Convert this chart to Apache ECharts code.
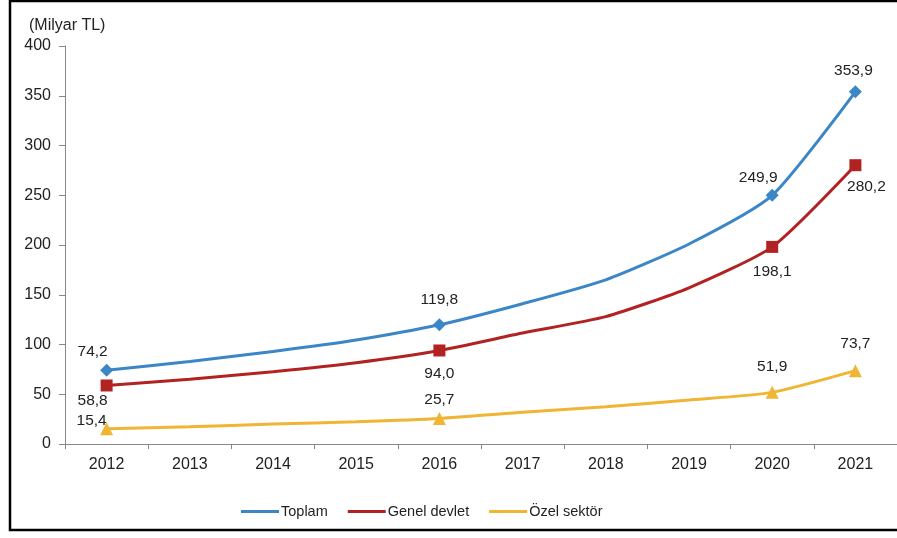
<!DOCTYPE html>
<html>
<head>
<meta charset="utf-8">
<script src="https://cdn.jsdelivr.net/npm/echarts@6/dist/echarts.min.js"></script>
<style>
html,body{margin:0;padding:0;background:#fff;}
#c{width:897px;height:538px;}
</style>
</head>
<body>
<div id="c"></div>
<script>
const years = ['2012','2013','2014','2015','2016','2017','2018','2019','2020','2021'];
const toplam = [74.2, 83, 93, 104.5, 119.8, 141, 165, 201, 249.9, 353.9];
const genelDevlet = [58.8, 65, 72.7, 81.7, 94.0, 111.5, 128, 157, 198.1, 280.2];
const ozelSektor = [15.4, 17.4, 20, 22.4, 25.7, 31.8, 37.5, 44.2, 51.9, 73.7];
const yTicks = [0, 50, 100, 150, 200, 250, 300, 350, 400];
const labeledIdx = [0, 4, 8, 9];
const seriesNames = ['Toplam', 'Genel devlet', 'Özel sektör'];

// label placement (styling only): offsets of the label centre from the marker, per labelled point
const labelOffsets = {
  toplam: [[-14, -18], [0, -25], [-14, -18], [-2, -21]],
  genel: [[-14, 15], [0, 23], [0, 25], [11, 22]],
  ozel: [[-15, -8], [0, -19], [0, -26], [0, -27]]
};

const FONT = 'Liberation Sans, Arial, sans-serif';
const fmt = v => v.toFixed(1).replace('.', ',');

function makeData(arr, offsets) {
  return arr.map((v, i) => {
    const k = labeledIdx.indexOf(i);
    if (k < 0) return { value: v, symbol: 'none', label: { show: false } };
    return { value: v, label: { show: true, position: 'inside', offset: offsets[k] } };
  });
}

const labelBase = {
  color: '#222', fontSize: 15.5, fontFamily: FONT,
  formatter: p => fmt(p.value)
};

const chart = echarts.init(document.getElementById('c'));
chart.setOption({
  animation: false,
  textStyle: { fontFamily: FONT },
  graphic: [{
    type: 'rect', shape: { x: 10, y: 1, width: 900, height: 529 },
    style: { fill: 'none', stroke: '#000', lineWidth: 2.5 }, silent: true, z: 100
  }, {
    type: 'text', left: 29, top: 18,
    style: { text: '(Milyar TL)', fill: '#222', fontSize: 16, fontFamily: FONT }
  }],
  grid: { left: 65, right: 0, top: 46, bottom: 94 },
  legend: {
    data: seriesNames, left: 236, bottom: 14,
    icon: 'rect', itemWidth: 38, itemHeight: 3, itemGap: 20,
    textStyle: { fontSize: 14.5, color: '#222', fontFamily: FONT, padding: [0, 0, 0, -3] }
  },
  xAxis: {
    type: 'category', data: years, boundaryGap: true,
    axisLine: { lineStyle: { color: '#888', width: 1 } },
    axisTick: { show: true, length: 5, lineStyle: { color: '#888' } },
    axisLabel: { color: '#222', fontSize: 16, margin: 13, fontFamily: FONT }
  },
  yAxis: {
    type: 'value', min: yTicks[0], max: yTicks[yTicks.length - 1], interval: 50,
    axisLine: { show: true, lineStyle: { color: '#888', width: 1 } },
    axisTick: { show: true, length: 6, lineStyle: { color: '#888' } },
    splitLine: { show: false },
    axisLabel: { color: '#222', fontSize: 16, margin: 14, fontFamily: FONT }
  },
  series: [{
    name: seriesNames[0], type: 'line', smooth: 0.2,
    symbol: 'diamond', symbolSize: 13,
    lineStyle: { width: 3, color: '#3B86C6' },
    itemStyle: { color: '#3B86C6' },
    label: labelBase,
    data: makeData(toplam, labelOffsets.toplam),
    z: 3
  }, {
    name: seriesNames[1], type: 'line', smooth: 0.2,
    symbol: 'rect', symbolSize: 12,
    lineStyle: { width: 3, color: '#B22222' },
    itemStyle: { color: '#B22222' },
    label: labelBase,
    data: makeData(genelDevlet, labelOffsets.genel),
    z: 2
  }, {
    name: seriesNames[2], type: 'line', smooth: 0.2,
    symbol: 'triangle', symbolSize: 13,
    lineStyle: { width: 3, color: '#F0B532' },
    itemStyle: { color: '#F0B532' },
    label: labelBase,
    data: makeData(ozelSektor, labelOffsets.ozel),
    z: 1
  }]
});
</script>
</body>
</html>
